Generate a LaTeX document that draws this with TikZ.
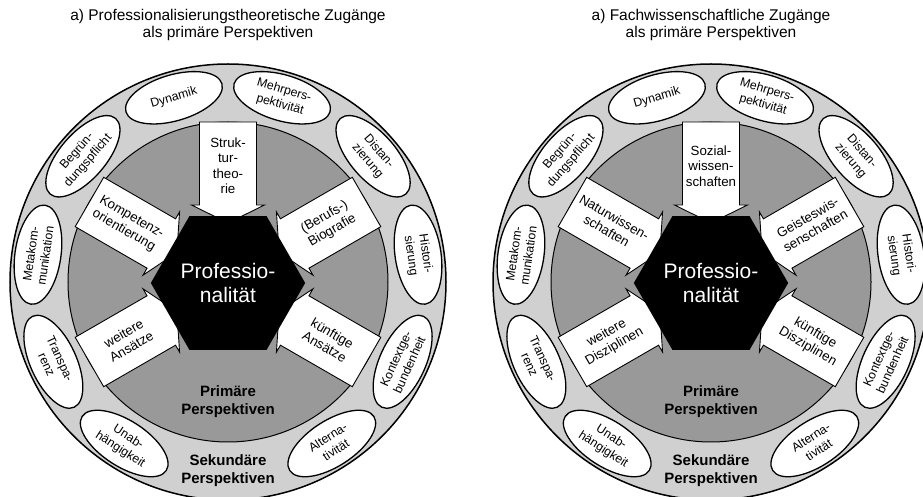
\documentclass[tikz,border=0pt]{standalone}
\usepackage{fontspec}
\setmainfont{Liberation Sans}
\usetikzlibrary{shapes.geometric}
\definecolor{ringgray}{RGB}{208,208,208}
\definecolor{innergray}{RGB}{153,153,153}
\tikzset{
 sec/.style={ellipse, draw=black, line width=1.3pt, fill=white, minimum width=100pt, minimum height=46pt, inner sep=0pt, align=center, font=\fontsize{12.3}{14.8}\selectfont},
 arrowbox/.style={draw=black, line width=0.9pt, fill=white, line join=miter},
 arrowtext/.style={align=center, inner sep=0pt, font=\fontsize{13.3}{15.5}\selectfont},
 hexa/.style={regular polygon, regular polygon sides=6, minimum size=132pt, fill=black, text=white, inner sep=0pt, align=center, font=\fontsize{21}{24}\selectfont},
 boldlabel/.style={align=center, inner sep=0pt, font=\bfseries\fontsize{15}{18}\selectfont},
 titletext/.style={anchor=base, inner sep=0pt, font=\fontsize{15.5}{16.5}\selectfont},
}
\newcommand{\primarrow}[4]{%
 \begin{scope}[rotate=#1]
 \draw[arrowbox] (160,28.5) -- (77,28.5) -- (77,36.5) -- (59,0) -- (77,-36.5) -- (77,-28.5) -- (160,-28.5) -- cycle;
 \end{scope}
 \node[arrowtext,rotate=#4] (#2) at (#1:116) {#3};}
\newcommand{\panelbase}[1]{%
 \filldraw[fill=ringgray,draw=black,line width=1.5pt] (0,0) circle (218pt);
 \filldraw[fill=innergray,draw=black,line width=1pt] (0,0) circle (160pt);
 \node[sec,rotate=32.73] (#1e1) at (-57.27:192) {Alterna-\\tivität};
 \node[sec,rotate=65.45] (#1e2) at (-24.55:192) {Kontextge-\\bundenheit};
 \node[sec,rotate=-81.82] (#1e3) at (8.18:192) {Histori-\\sierung};
 \node[sec,rotate=-49.09] (#1e4) at (40.91:192) {Distan-\\zierung};
 \node[sec,rotate=-16.36] (#1e5) at (73.64:192) {Mehrpers-\\pektivität};
 \node[sec,rotate=16.36] (#1e6) at (106.36:192) {Dynamik};
 \node[sec,rotate=49.09] (#1e7) at (139.09:192) {Begrün-\\dungspflicht};
 \node[sec,rotate=81.82] (#1e8) at (171.82:192) {Metakom-\\munikation};
 \node[sec,rotate=-65.45] (#1e9) at (204.55:192) {Transpa-\\renz};
 \node[sec,rotate=-32.73] (#1e10) at (237.27:192) {Unab-\\hängigkeit};
 \node[boldlabel] (#1prim) at (0,-120) {Primäre\\Perspektiven};
 \node[boldlabel] (#1sek) at (0,-189) {Sekundäre\\Perspektiven};
}
\begin{document}
\begin{tikzpicture}[x=1pt,y=1pt]
\useasboundingbox (-228,-215) rectangle (695,282);
% left panel
\panelbase{L}
\node[titletext] (Lt1) at (0,261) {a) Professionalisierungstheoretische Zugänge};
\node[titletext] (Lt2) at (0,244.5) {als primäre Perspektiven};
\primarrow{90}{La1}{Struk-\\tur-\\theo-\\rie}{0}
\primarrow{150}{La2}{Kompetenz-\\orientierung}{-30}
\primarrow{30}{La3}{(Berufs-)\\Biografie}{30}
\primarrow{210}{La4}{weitere\\Ansätze}{30}
\primarrow{330}{La5}{künftige\\Ansätze}{-30}
\node[hexa] (Lhex) at (0,-1) {Professio-\\nalität};
% right panel
\begin{scope}[shift={(483,0)}]
\panelbase{R}
\node[titletext] (Rt1) at (0,261) {a) Fachwissenschaftliche Zugänge};
\node[titletext] (Rt2) at (0,244.5) {als primäre Perspektiven};
\primarrow{90}{Ra1}{Sozial-\\wissen-\\schaften}{0}
\primarrow{150}{Ra2}{Naturwissen-\\schaften}{-30}
\primarrow{30}{Ra3}{Geisteswis-\\senschaften}{30}
\primarrow{210}{Ra4}{weitere\\Disziplinen}{30}
\primarrow{330}{Ra5}{künftige\\Disziplinen}{-30}
\node[hexa] (Rhex) at (0,-1) {Professio-\\nalität};
\end{scope}
\end{tikzpicture}
\end{document}
